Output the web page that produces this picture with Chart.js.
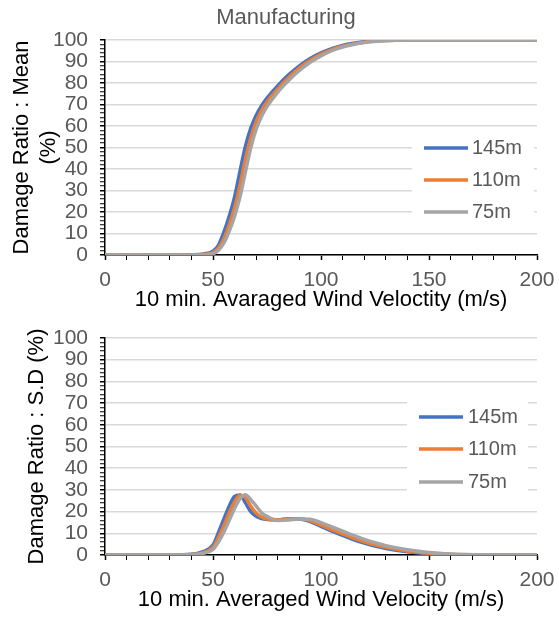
<!DOCTYPE html>
<html>
<head>
<meta charset="utf-8">
<script src="https://cdn.jsdelivr.net/npm/chart.js@4"></script>
<style>
body{margin:0;background:#fff;}
#wrap{position:relative;width:559px;height:618px;}
canvas{position:absolute;left:0;}
#meanChart{top:0;}
#sdChart{top:312px;}
</style>
</head>
<body>
<div id="wrap">
<canvas id="meanChart" width="559" height="320"></canvas>
<canvas id="sdChart" width="559" height="306"></canvas>
</div>
<script>
// Wind velocity (m/s) sample points
const velocity = [0,10,20,30,40,45,50,52.5,55,57.5,60,62.5,65,67.5,70,72.5,75,80,85,90,95,100,105,110,115,120,125,130,140,150,160,170,180,190,200];

// Damage ratio : mean (%)
const mean145 = [0,0,0,0,0.1,0.4,1.8,4.5,10.5,18,27,39,50.5,59,65,69.5,73,78.8,83.8,88,91.4,94,96,97.5,98.5,99.2,99.6,99.85,100,100,100,100,100,100,100];
const mean110 = [0,0,0,0,0.05,0.25,1.1,3.2,7.5,14,22,32.5,44.5,54.5,62,67.3,71.3,77.3,82.5,87,90.6,93.4,95.5,97.1,98.2,99,99.5,99.75,99.97,100,100,100,100,100,100];
const mean75  = [0,0,0,0,0,0.1,0.6,2.2,5.5,11,18,27,38.5,50,58.5,64.5,69,75.8,81.2,85.8,89.6,92.6,95,96.7,97.9,98.8,99.3,99.65,99.95,100,100,100,100,100,100];

// Damage ratio : S.D (%)
const sd145 = [0,0,0,0,0.3,1.4,4.6,10.3,16.5,22.5,27,27.7,24,20,17.8,16.8,16.4,16.2,16.7,16.6,15.4,13.2,11,9,7.1,5.5,4.1,3,1.5,0.6,0.2,0.1,0,0,0];
const sd110 = [0,0,0,0,0.2,1,3.6,8,13.5,19.5,24.5,27.5,26.5,22.5,19.3,17.5,16.6,16.2,16.6,16.7,15.8,13.8,11.7,9.7,7.8,6.1,4.7,3.5,1.8,0.8,0.3,0.1,0,0,0];
const sd75  = [0,0,0,0,0.1,0.7,2.6,6,10.5,16,21.5,26,27.8,25.5,22.5,19.5,17.8,15.9,16.1,16.6,16.5,14.9,13,11,9,7.2,5.7,4.3,2.4,1.1,0.4,0.15,0.05,0,0];

const seriesNames = ["145m","110m","75m"];
const seriesColors = ["#4472C4","#ED7D31","#A5A5A5"];
const xLabelValues = [0,50,100,150,200];
const yLabelValues = [0,10,20,30,40,50,60,70,80,90,100];

const FONT = "'Liberation Sans', Arial, sans-serif";
const LABEL_GRAY = "#595959";

function toPoints(ys){
  return velocity.map((v,i)=>({x:v, y:ys[i]}));
}

function buildDatasets(seriesList){
  return seriesList.map((ys,i)=>({
    label: seriesNames[i],
    data: toPoints(ys),
    borderColor: seriesColors[i],
    backgroundColor: seriesColors[i],
    borderWidth: 3.5,
    pointRadius: 0,
    cubicInterpolationMode: "monotone",
    order: 3 - i   // 75m on top, like the original
  }));
}

// legend drawn inside the plot, on a white box over the gridlines
function legendPlugin(box, rowY, lineX, textX){
  return {
    id: "insideLegend",
    beforeDatasetsDraw(chart){
      const ctx = chart.ctx;
      ctx.save();
      ctx.fillStyle = "#fff";
      ctx.fillRect(box.x, box.y, box.w, box.h);
      chart.data.datasets.forEach((ds,i)=>{
        const y = rowY[i];
        ctx.strokeStyle = ds.borderColor;
        ctx.lineWidth = 3.5;
        ctx.beginPath(); ctx.moveTo(lineX[0], y); ctx.lineTo(lineX[1], y); ctx.stroke();
        ctx.fillStyle = LABEL_GRAY;
        ctx.font = "20px " + FONT;
        ctx.textBaseline = "middle";
        ctx.textAlign = "left";
        ctx.fillText(ds.label, textX, y);
      });
      ctx.restore();
    }
  };
}

// chart title, placed a bit left of the plot centre as in the original
function titlePlugin(text, x, y){
  return {
    id: "sheetTitle",
    afterDraw(chart){
      const ctx = chart.ctx;
      ctx.save();
      ctx.fillStyle = LABEL_GRAY;
      ctx.font = "22px " + FONT;
      ctx.textAlign = "center";
      ctx.textBaseline = "middle";
      ctx.fillText(text, x, y);
      ctx.restore();
    }
  };
}

function makeScales(o){
  return {
    x: {
      type: "linear", min: 0, max: 200,
      afterFit: s => { s.height = o.xHeight; s.paddingLeft = 0; s.paddingRight = 0; },
      border: {color: "#000", width: 1.5},
      grid: {drawOnChartArea: false, color: "#000", tickLength: 5,
        tickWidth: c => (c.tick && xLabelValues.includes(c.tick.value)) ? 1.5 : 1},
      ticks: {stepSize: 10, autoSkip: false, maxRotation: 0, padding: o.xTickPad, color: LABEL_GRAY,
        font: {family: FONT, size: 21},
        callback: v => xLabelValues.includes(v) ? String(v) : ""},
      title: {display: true, text: o.xTitle, color: "#000",
        font: {family: FONT, size: 22, lineHeight: 1.25}, padding: {top: 0, bottom: o.xTitlePad}}
    },
    y: {
      min: 0, max: 100,
      afterFit: s => { s.width = 105; },
      border: {color: "#000", width: 1.5},
      grid: {
        color: c => (c.tick && yLabelValues.includes(c.tick.value)) ? "#d9d9d9" : "rgba(0,0,0,0)",
        lineWidth: 1.5,
        tickColor: "#000", tickLength: 5,
        tickWidth: c => (c.tick && yLabelValues.includes(c.tick.value)) ? 1.5 : 1
      },
      ticks: {stepSize: 2, autoSkip: false, padding: 12, color: LABEL_GRAY,
        font: {family: FONT, size: 21},
        callback: v => yLabelValues.includes(v) ? String(v) : ""},
      title: {display: true, text: o.yTitle, color: "#000",
        font: {family: FONT, size: 22, lineHeight: 1.25}, padding: {top: o.yTitlePad, bottom: 0}}
    }
  };
}

// Mean chart
new Chart(document.getElementById("meanChart"), {
  type: "line",
  data: {datasets: buildDatasets([mean145, mean110, mean75])},
  options: {
    responsive: false, animation: false,
    layout: {padding: {left: 0, right: 22, top: 40, bottom: 0}},
    plugins: {
      legend: {display: false},
      tooltip: {enabled: false}
    },
    scales: makeScales({
      xHeight: 65, xTickPad: 8, xTitlePad: 6, yTitlePad: 8,
      xTitle: "10 min. Avaraged Wind Veloctity (m/s)",
      yTitle: ["Damage Ratio : Mean", "(%)"]
    })
  },
  plugins: [
    legendPlugin({x: 412, y: 130, w: 122, h: 96}, [148, 180, 212], [424, 468], 472),
    titlePlugin("Manufacturing", 286, 18)
  ]
});

// S.D chart
new Chart(document.getElementById("sdChart"), {
  type: "line",
  data: {datasets: buildDatasets([sd145, sd110, sd75])},
  options: {
    responsive: false, animation: false,
    layout: {padding: {left: 0, right: 22, top: 26, bottom: 0}},
    plugins: {
      legend: {display: false},
      tooltip: {enabled: false}
    },
    scales: makeScales({
      xHeight: 63, xTickPad: 8, xTitlePad: 4, yTitlePad: 23,
      xTitle: "10 min. Averaged Wind Velocity (m/s)",
      yTitle: "Damage Ratio : S.D (%)"
    })
  },
  plugins: [legendPlugin({x: 407, y: 83, w: 121, h: 105}, [105, 137, 170], [419, 463], 468)]
});
</script>
</body>
</html>
